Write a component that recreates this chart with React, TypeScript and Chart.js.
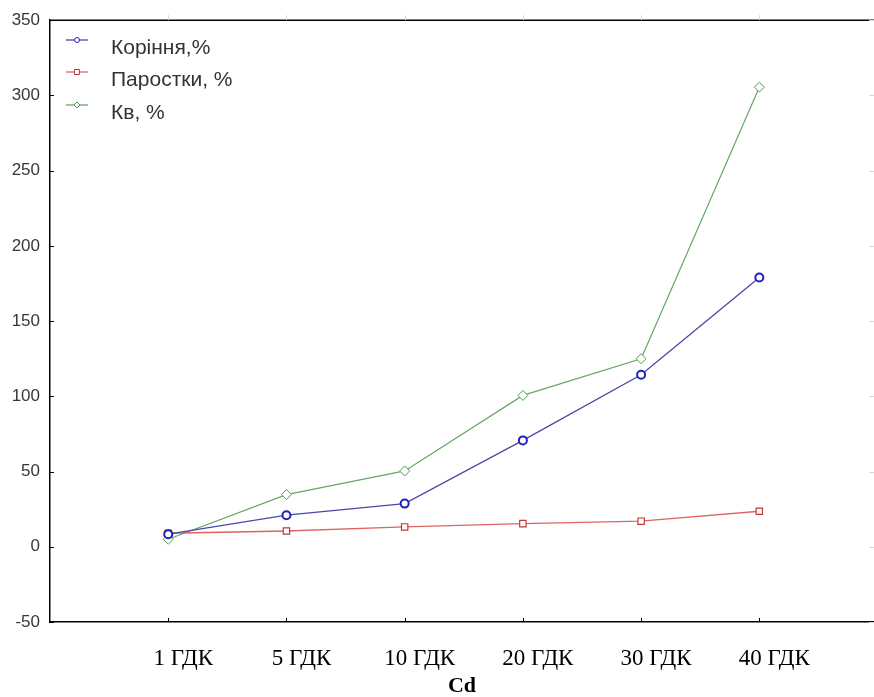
import React, { useEffect, useRef } from 'react';
import { Chart, registerables } from 'chart.js';

Chart.register(...registerables);

const categories = ['1 ГДК', '5 ГДК', '10 ГДК', '20 ГДК', '30 ГДК', '40 ГДК'];
const koriniaValues = [8.4, 21, 28.7, 70.7, 114.3, 179];
const parostkyValues = [9, 10.5, 13.2, 15.4, 17, 23.6];
const kvValues = [5, 34.7, 50.4, 100.6, 125, 305.5];
const yTicks = [-50, 0, 50, 100, 150, 200, 250, 300, 350];
const seriesLabels = ['Коріння,%', 'Паростки, %', 'Кв, %'];
const xTitle = 'Cd';

const toPoints = (vals: number[]) => vals.map((v, i) => ({ x: i + 1, y: v }));

const framePlugin = {
  id: 'frame',
  afterDraw(chart: any) {
    const { ctx, chartArea, scales } = chart;
    const { left, right, top, bottom } = chartArea;
    ctx.save();
    ctx.strokeStyle = '#000';
    ctx.lineWidth = 1.5;
    ctx.beginPath();
    ctx.moveTo(left, top);
    ctx.lineTo(right, top);
    ctx.stroke();
    // inward ticks on left and bottom axes
    ctx.lineWidth = 1;
    ctx.beginPath();
    scales.y.ticks.forEach((t: any) => {
      const y = Math.round(scales.y.getPixelForValue(t.value)) + 0.5;
      ctx.moveTo(left, y);
      ctx.lineTo(left + 4, y);
    });
    scales.x.ticks.forEach((t: any) => {
      const x = Math.round(scales.x.getPixelForValue(t.value)) + 0.5;
      ctx.moveTo(x, bottom);
      ctx.lineTo(x, bottom - 4);
    });
    ctx.stroke();
    // faint ticks on top and right
    ctx.strokeStyle = '#d8d8d8';
    ctx.beginPath();
    scales.y.ticks.forEach((t: any) => {
      const y = Math.round(scales.y.getPixelForValue(t.value)) + 0.5;
      ctx.moveTo(right - 5, y);
      ctx.lineTo(right, y);
    });
    scales.x.ticks.forEach((t: any) => {
      const x = Math.round(scales.x.getPixelForValue(t.value)) + 0.5;
      ctx.moveTo(x, top);
      ctx.lineTo(x, top - 5);
    });
    ctx.stroke();
    ctx.restore();
  },
};

const legendPlugin = {
  id: 'insideLegend',
  afterDraw(chart: any) {
    const { ctx } = chart;
    const rows = [48, 80, 113];
    ctx.save();
    chart.data.datasets.forEach((ds: any, i: number) => {
      const ty = rows[i];
      const y = ty - 8;
      ctx.strokeStyle = ds.borderColor;
      ctx.lineWidth = 1.3;
      ctx.beginPath();
      ctx.moveTo(66, y);
      ctx.lineTo(88, y);
      ctx.stroke();
      ctx.fillStyle = '#fff';
      ctx.strokeStyle = ds.pointBorderColor;
      ctx.lineWidth = 1;
      ctx.beginPath();
      if (ds.pointStyle === 'circle') {
        ctx.arc(77, y, 2.5, 0, Math.PI * 2);
      } else if (ds.pointStyle === 'rect') {
        ctx.rect(74.5, y - 2.5, 5, 5);
      } else {
        ctx.moveTo(77, y - 3);
        ctx.lineTo(80, y);
        ctx.lineTo(77, y + 3);
        ctx.lineTo(74, y);
        ctx.closePath();
      }
      ctx.fill();
      ctx.stroke();
      ctx.fillStyle = '#333';
      ctx.font = '21px "Liberation Sans", Arial, sans-serif';
      ctx.textBaseline = 'middle';
      ctx.textAlign = 'left';
      ctx.fillText(ds.label, 111, ty);
    });
    ctx.restore();
  },
};

export default function App() {
  const ref = useRef<HTMLCanvasElement | null>(null);

  useEffect(() => {
    if (!ref.current) return;
    const chart = new Chart(ref.current, {
      type: 'line',
      data: {
        datasets: [
          {
            label: seriesLabels[0],
            data: toPoints(koriniaValues),
            borderColor: '#4848a8',
            borderWidth: 1.3,
            pointStyle: 'circle',
            pointRadius: 4,
            pointBorderWidth: 2,
            pointBorderColor: '#2020c0',
            pointBackgroundColor: '#ffffff',
          },
          {
            label: seriesLabels[1],
            data: toPoints(parostkyValues),
            borderColor: '#e06464',
            borderWidth: 1.3,
            pointStyle: 'rect',
            pointRadius: 4.5,
            pointBorderWidth: 1.2,
            pointBorderColor: '#c03838',
            pointBackgroundColor: '#ffffff',
          },
          {
            label: seriesLabels[2],
            data: toPoints(kvValues),
            borderColor: '#64a864',
            borderWidth: 1.2,
            pointStyle: 'rectRot',
            pointRadius: 5,
            pointBorderWidth: 1,
            pointBorderColor: '#4c9c4c',
            pointBackgroundColor: '#ffffff',
          },
        ],
      },
      options: {
        animation: false,
        responsive: false,
        maintainAspectRatio: false,
        layout: { autoPadding: false, padding: { top: 19, left: 0, right: 0, bottom: 0 } },
        plugins: {
          legend: { display: false },
          tooltip: { enabled: false },
        },
        scales: {
          x: {
            type: 'linear',
            min: 0,
            max: 6.97,
            afterBuildTicks: (scale: any) => {
              scale.ticks = categories.map((_, i) => ({ value: i + 1 }));
            },
            afterFit: (scale: any) => {
              scale.height = 75;
            },
            grid: {
              drawOnChartArea: false,
              drawTicks: false,
              color: '#000',
            },
            border: { display: true, color: '#000', width: 1.5 },
            ticks: {
              autoSkip: false,
              maxRotation: 0,
              padding: 23,
              labelOffset: 15,
              color: '#000',
              font: { family: '"Liberation Serif", "Times New Roman", serif', size: 23 },
              callback: (v: any) => categories[Number(v) - 1] ?? '',
            },
            title: {
              display: true,
              text: xTitle,
              color: '#000',
              font: { family: '"Liberation Serif", "Times New Roman", serif', size: 22, weight: 'bold', lineHeight: 1 },
              padding: { top: 0, bottom: 0 },
            },
          },
          y: {
            type: 'linear',
            min: -50,
            max: 350,
            afterBuildTicks: (scale: any) => {
              scale.ticks = yTicks.map((v) => ({ value: v }));
            },
            afterFit: (scale: any) => {
              scale.width = 50;
            },
            grid: {
              drawOnChartArea: false,
              drawTicks: false,
              color: '#000',
            },
            border: { display: true, color: '#000', width: 1.5 },
            ticks: {
              padding: 10,
              color: '#383838',
              font: { family: '"Liberation Sans", Arial, sans-serif', size: 17 },
            },
          },
        },
      },
      plugins: [framePlugin, legendPlugin],
    } as any);
    return () => chart.destroy();
  }, []);

  return (
    <div style={{ position: 'fixed', left: 0, top: 0, width: 874, height: 697, background: '#fff' }}>
      <canvas ref={ref} width={874} height={697} style={{ width: 874, height: 697, display: 'block' }} />
    </div>
  );
}
